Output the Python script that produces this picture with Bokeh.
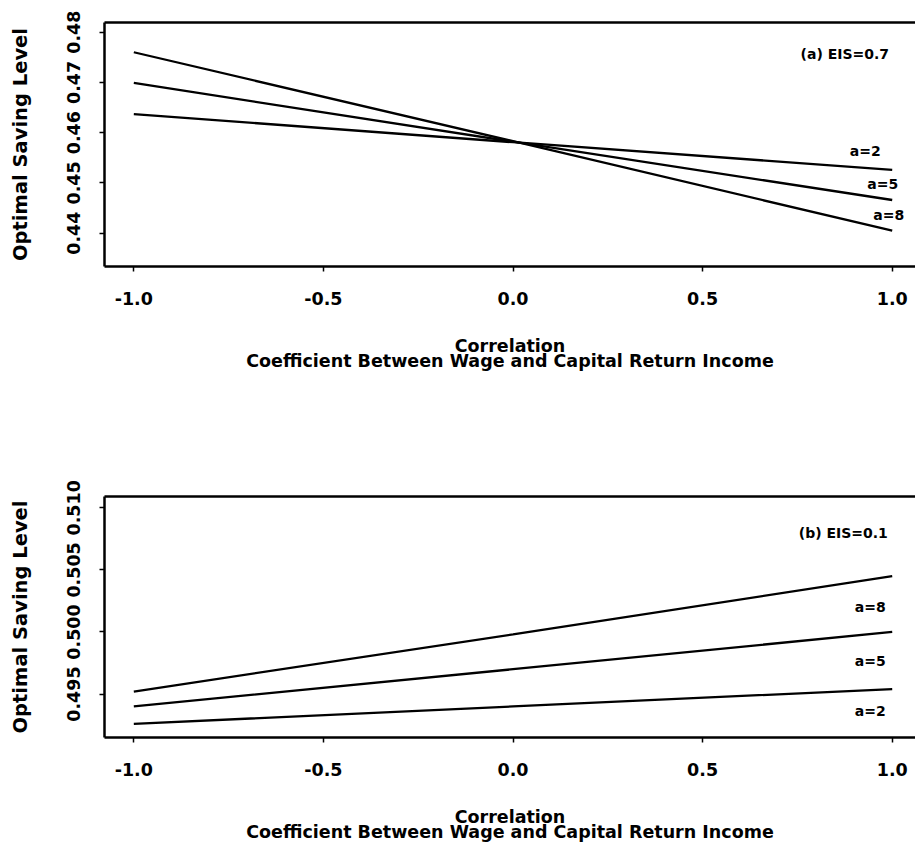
from bokeh.core.properties import value
from bokeh.embed import file_html
from bokeh.layouts import column
from bokeh.models import FixedTicker, LinearAxis, Range1d
from bokeh.plotting import figure
from bokeh.resources import INLINE

# correlation coefficient between wage and capital return income
corr = [-1.0, 0.0, 1.0]

# panel (a): EIS = 0.7, optimal saving level for risk aversion a = 2, 5, 8
saving_a2_eis07 = [0.4637, 0.4581, 0.4526]
saving_a5_eis07 = [0.4699, 0.4582, 0.4466]
saving_a8_eis07 = [0.4760, 0.4583, 0.4405]

# panel (b): EIS = 0.1
saving_a2_eis01 = [0.4926, 0.4940, 0.4954]
saving_a5_eis01 = [0.4940, 0.4970, 0.5000]
saving_a8_eis01 = [0.4952, 0.4998, 0.5045]

x_ticks = [-1.0, -0.5, 0.0, 0.5, 1.0]
x_tick_labels = ["-1.0", "-0.5", "0.0", "0.5", "1.0"]
y_ticks_a = [0.44, 0.45, 0.46, 0.47, 0.48]
y_tick_labels_a = ["0.44", "0.45", "0.46", "0.47", "0.48"]
y_ticks_b = [0.495, 0.500, 0.505, 0.510]
y_tick_labels_b = ["0.495", "0.500", "0.505", "0.510"]

curve_labels = ["a=2", "a=5", "a=8"]
# label anchors (x, y) for the curve names and the panel tags
label_x_a = [0.929, 0.975, 0.991]
label_y_a = [0.45633, 0.44984, 0.44357]
label_x_b = [0.942, 0.942, 0.942]
label_y_b = [0.49360, 0.49763, 0.50204]
tag_a = "(a) EIS=0.7"
tag_b = "(b) EIS=0.1"

FONT = "DejaVu Sans"
X_TITLE = "Correlation\nCoefficient Between Wage and Capital Return Income"
Y_TITLE = "Optimal Saving Level"


def panel(series, y_ticks, y_labels, y_lo, y_hi, lab_x, lab_y, tag, tag_xy,
          top_border, frame_h, bottom_border):
    p = figure(
        frame_width=811, frame_height=frame_h,
        x_range=Range1d(-1.0773, 1.0614), y_range=Range1d(y_lo, y_hi),
        x_axis_location=None, y_axis_location=None,
        min_border_left=104, min_border_right=0,
        min_border_top=top_border, min_border_bottom=bottom_border,
        output_backend="svg", toolbar_location=None,
        background_fill_color="white", border_fill_color="white",
    )
    p.outline_line_color = None
    p.grid.visible = False

    common = dict(
        axis_line_color="black", axis_line_width=2.5,
        major_tick_line_color="black", major_tick_line_width=1.5,
        major_tick_in=0, major_tick_out=5,
        minor_tick_line_color=None,
        major_label_text_font=FONT, major_label_text_font_style="bold",
        major_label_text_font_size="17.5px", major_label_text_color="black",
        axis_label_text_font=FONT, axis_label_text_font_style="bold",
        axis_label_text_color="black",
    )

    xaxis = LinearAxis(
        ticker=FixedTicker(ticks=x_ticks),
        major_label_overrides=dict(zip(x_ticks, x_tick_labels)),
        major_label_standoff=20,
        axis_label=X_TITLE, axis_label_standoff=28,
        axis_label_text_font_size="17.5px",
        axis_label_text_line_height=0.75,
        **common,
    )
    p.add_layout(xaxis, "below")

    yaxis = LinearAxis(
        ticker=FixedTicker(ticks=y_ticks),
        major_label_overrides=dict(zip(y_ticks, y_labels)),
        major_label_orientation="parallel",
        major_label_standoff=19,
        axis_label=Y_TITLE, axis_label_standoff=33,
        axis_label_text_font_size="19.5px",
        **common,
    )
    p.add_layout(yaxis, "left")

    # top edge of the box
    top = LinearAxis(
        ticker=FixedTicker(ticks=[]),
        axis_line_color="black", axis_line_width=2.5,
        major_tick_line_color=None, minor_tick_line_color=None,
        major_label_text_font_size="0px",
    )
    p.add_layout(top, "above")

    for ys in series:
        p.line(corr, ys, line_color="black", line_width=2.3)

    p.text(x=lab_x, y=lab_y, text=curve_labels,
           text_font=value(FONT), text_font_style="bold",
           text_font_size="14px", text_color="black",
           text_align="center", text_baseline="middle")
    p.text(x=[tag_xy[0]], y=[tag_xy[1]], text=[tag],
           text_font=value(FONT), text_font_style="bold",
           text_font_size="14px", text_color="black",
           text_align="center", text_baseline="middle")
    return p


p_a = panel([saving_a2_eis07, saving_a5_eis07, saving_a8_eis07],
            y_ticks_a, y_tick_labels_a, 0.43337, 0.48192,
            label_x_a, label_y_a, tag_a, (0.875, 0.47567),
            top_border=22, frame_h=244, bottom_border=163)

p_b = panel([saving_a2_eis01, saving_a5_eis01, saving_a8_eis01],
            y_ticks_b, y_tick_labels_b, 0.49150, 0.51091,
            label_x_b, label_y_b, tag_b, (0.871, 0.50795),
            top_border=67, frame_h=241, bottom_border=121)

layout = column(p_a, p_b, spacing=0)

with open("out.html", "w") as f:
    f.write(file_html(layout, INLINE))
